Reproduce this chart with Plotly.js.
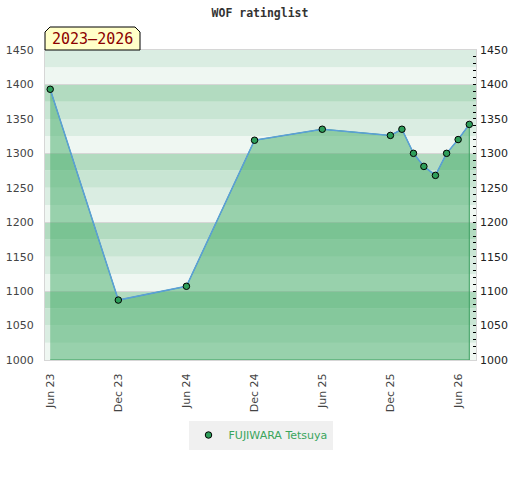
<!DOCTYPE html>
<html>
<head>
<meta charset="utf-8">
<script src="https://cdn.plot.ly/plotly-3.0.1.min.js"></script>
<style>html,body{margin:0;padding:0;background:#fff;}#chart{width:520px;height:480px;}</style>
</head>
<body>
<div id="chart"></div>
<script>
// ---- data ----
const dates = ['2023-06-01','2023-12-01','2024-06-01','2024-12-01','2025-06-01','2025-12-01',
  '2026-01-01','2026-02-01','2026-03-01','2026-04-01','2026-05-01','2026-06-01','2026-07-01'];
const ratings = [1393,1087,1107,1319,1335,1326,1335,1300,1281,1268,1300,1320,1342];
const playerName = 'FUJIWARA Tetsuya';
const chartTitle = 'WOF ratinglist';
const periodLabel = '2023\u20132026';
const yRange = [1000, 1450];
const xRange = ['2023-05-18', '2026-07-19'];

// ---- style ----
const bandColors = {0:'#eff7f2', 25:'#daede2', 50:'#c8e5d3', 75:'#b2dbc0'};
const base = yRange[0];

const shapes = [];
for (let v = yRange[0]; v < yRange[1]; v += 25) {
  shapes.push({type:'rect', xref:'paper', yref:'y', x0:0, x1:1, y0:v, y1:v+25,
    fillcolor: bandColors[v % 100], line:{width:0}, layer:'below'});
}
// badge
const bw = 95/431, cx = 5/431, cy = 5/310, bh = 23/310;
shapes.push({type:'path', xref:'paper', yref:'paper',
  path:`M 0 1 L 0 ${1+bh-cy} L ${cx} ${1+bh} L ${bw-cx} ${1+bh} L ${bw} ${1+bh-cy} L ${bw} 1 Z`,
  fillcolor:'#ffffc8', line:{color:'#000', width:1}, layer:'above'});

const fillX = dates.concat([dates[dates.length-1], dates[0]]);
const fillY = ratings.concat([base, base]);

const traces = [
  {x:fillX, y:fillY, mode:'lines', fill:'toself', fillcolor:'rgba(65,171,102,0.5)',
   line:{color:'#3a9e5e', width:1}, showlegend:false, hoverinfo:'skip'},
  {x:dates, y:ratings, mode:'lines', line:{color:'#5b9fd9', width:1.5},
   showlegend:false, hoverinfo:'skip'},
  {x:dates, y:ratings, mode:'markers', name:playerName,
   marker:{color:'#2e9e5a', size:6.5, line:{color:'#000', width:1}}},
  {x:dates, y:ratings, yaxis:'y2', mode:'markers', marker:{opacity:0}, showlegend:false, hoverinfo:'skip'},
  {x:dates, y:ratings, yaxis:'y3', mode:'markers', marker:{opacity:0}, showlegend:false, hoverinfo:'skip'}
];

const layout = {
  width:520, height:480,
  margin:{l:45, r:44, t:50, b:120},
  paper_bgcolor:'#fff', plot_bgcolor:'#fff',
  font:{family:'DejaVu Sans', size:11, color:'#444'},
  title:{text:chartTitle, x:0.5, xref:'container', xanchor:'center', y:1-13/480, yref:'container', yanchor:'middle',
    font:{family:'DejaVu Sans Mono', size:11.5, weight:'bold', color:'#333'}},
  xaxis:{type:'date', range:xRange, tick0:'2023-06-01', dtick:'M6', tickformat:'%b %y',
    tickangle:-90, ticks:'', ticklabelstandoff:8, showgrid:false, zeroline:false,
    showline:true, linecolor:'#d6d6d6', linewidth:1, mirror:true,
    tickfont:{family:'DejaVu Sans', size:11, color:'#444'}},
  yaxis:{range:yRange, dtick:50, ticks:'', showgrid:false, zeroline:false,
    showline:true, linecolor:'#d6d6d6', linewidth:1, mirror:true, ticklabelstandoff:8,
    tickfont:{family:'DejaVu Sans', size:11, color:'#444'}},
  yaxis2:{range:yRange, overlaying:'y', side:'right', dtick:50, ticks:'inside', ticklen:3,
    tickcolor:'#000', tickwidth:1, showgrid:false, zeroline:false, showline:false,
    minor:{dtick:10, ticks:'inside', ticklen:3, tickcolor:'#000', tickwidth:1, showgrid:false},
    ticklabelstandoff:3, tickfont:{family:'DejaVu Sans', size:11, color:'#222'}},
  yaxis3:{range:yRange, overlaying:'y', side:'left', dtick:100, ticks:'', showticklabels:false,
    showgrid:true, gridcolor:'#d6d6d6', gridwidth:1, zeroline:false, showline:false},
  shapes:shapes,
  annotations:[{xref:'paper', yref:'paper', x:bw/2, y:1+bh/2, xanchor:'center', yanchor:'middle',
    text:periodLabel, showarrow:false, font:{family:'DejaVu Sans Mono', size:15, color:'#8b0000'}}],
  legend:{orientation:'h', x:0.5, xanchor:'center', y:-75/310, yanchor:'middle',
    bgcolor:'#f0f0f0', font:{family:'DejaVu Sans', size:11, color:'#3aa55c'}},
  showlegend:true
};

Plotly.newPlot('chart', traces, layout, {staticPlot:true, displayModeBar:false});
</script>
</body>
</html>
